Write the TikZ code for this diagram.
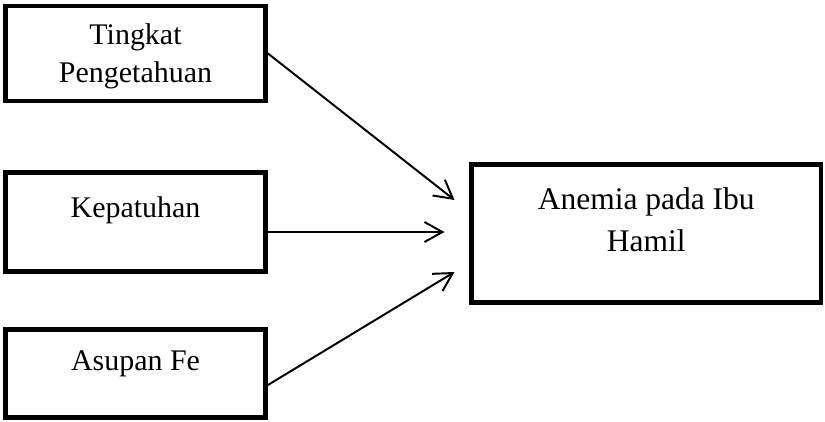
\documentclass[tikz,border=0pt]{standalone}
\usepackage{fontspec}
\setmainfont{Liberation Serif}
\usetikzlibrary{arrows.meta}

\begin{document}
\begin{tikzpicture}[
  x=0.025cm,y=-0.025cm,
  varbox/.style={draw=black,line width=0.12cm,align=center,minimum width=6.5cm,font=\fontsize{21.3}{27}\selectfont},
  outbox/.style={draw=black,line width=0.12cm,align=center,minimum width=8.74cm,minimum height=3.45cm,font=\fontsize{22.4}{29.9}\selectfont},
  arrow/.style={-{Straight Barb[length=0.45cm,width=0.5cm]},line width=1.4pt}
]
\useasboundingbox (0,0) rectangle (825,422);
\node[varbox,minimum height=2.375cm,text depth=0pt] (tingkat) at (135.5,53.5) {Tingkat\\Pengetahuan};
\node[varbox,minimum height=2.475cm,text depth=0.76cm] (kepatuhan) at (135.5,222) {Kepatuhan};
\node[varbox,minimum height=2.2cm,text depth=0.64cm] (asupan) at (135.5,373.5) {Asupan Fe};
\node[outbox,text depth=0.7cm] (anemia) at (646.25,233.5) {Anemia pada Ibu\\Hamil};
\coordinate (in1) at ([shift={(-14.5,-33.5)}]anemia.west);
\coordinate (in2) at ([shift={(-24.5,-1.5)}]anemia.west);
\coordinate (in3) at ([shift={(-14.5,38.5)}]anemia.west);
\draw[arrow] (tingkat.east) -- (in1);
\draw[arrow] (kepatuhan.east |- in2) -- (in2);
\draw[arrow] ([shift={(0,11.5)}]asupan.east) -- (in3);
\end{tikzpicture}
\end{document}
